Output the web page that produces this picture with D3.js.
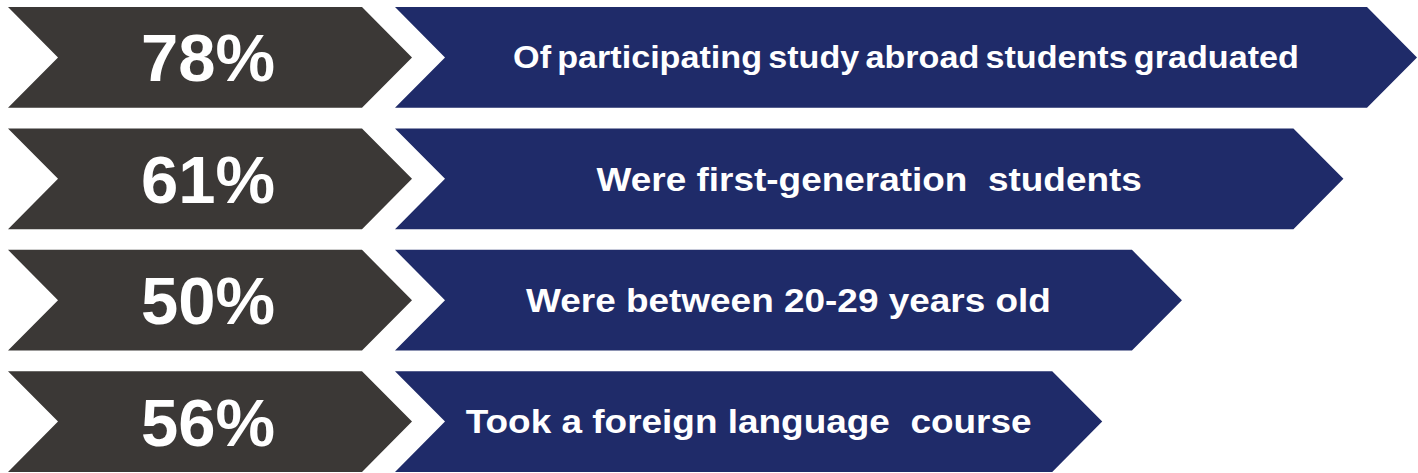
<!DOCTYPE html>
<html>
<head>
<meta charset="utf-8">
<script src="https://cdn.jsdelivr.net/npm/d3@7"></script>
<style>
  body { margin: 0; background: #fff; }
  svg { display: block; }
  text { font-family: "Liberation Sans", Arial, sans-serif; font-weight: bold; fill: #fff; }
</style>
</head>
<body>
<div id="chart"></div>
<script>
// data
var percents = [78, 61, 50, 56];
var captions = [
  "Of participating study abroad students graduated",
  "Were first-generation  students",
  "Were between 20-29 years old",
  "Took a foreign language  course"
];

// arrow length in the original is not tied to the value, so keep it apart (share of full reach)
var arrowReach = [1, 0.928, 0.77, 0.692];

var svgWidth = 1418;
var svgHeight = 473;
var tip = 50;

var svg = d3.select("#chart")
  .append("svg")
  .attr("width", svgWidth)
  .attr("height", svgHeight);

var rows = percents.map((p, i) => ({ pct: p, text: captions[i], reach: arrowReach[i], i: i }));

var yBand = d3.scaleBand()
  .domain(rows.map(d => d.i))
  .range([7, 472])
  .paddingInner(0.17);

// x for the gray chevron and blue arrow
var xGray = d3.scaleLinear().domain([0, 1]).range([8, 412]);
var xBlue = d3.scaleLinear().domain([0, 1]).range([395, 1417]);

var line = d3.line();

function chevron(x0, x1, y0, h) {
  var mid = y0 + h / 2;
  return line([
    [x0, y0], [x1 - tip, y0], [x1, mid], [x1 - tip, y0 + h],
    [x0, y0 + h], [x0 + tip, mid]
  ]) + "Z";
}

var g = svg.selectAll("g.row")
  .data(rows)
  .enter()
  .append("g")
  .attr("class", "row");

g.append("path")
  .attr("d", d => chevron(xGray(0), xGray(1), yBand(d.i), yBand.bandwidth()))
  .attr("fill", "#3b3836");

g.append("path")
  .attr("d", d => chevron(xBlue(0), xBlue(d.reach), yBand(d.i), yBand.bandwidth()))
  .attr("fill", "#1f2b69");

g.append("text")
  .attr("x", 208)
  .attr("y", d => yBand(d.i) + yBand.bandwidth() / 2 + 67 * 0.358)
  .attr("text-anchor", "middle")
  .style("font-size", "67px")
  .text(d => d.pct + "%");

// first caption is set smaller and tighter in the original
var capSize = d => d.i === 0 ? 30.5 : 33;

g.append("text")
  .attr("text-anchor", "middle")
  .attr("transform", d => {
    var cx = (xBlue(0) + tip + xBlue(d.reach) - tip) / 2;
    var cy = yBand(d.i) + yBand.bandwidth() / 2 + capSize(d) * 0.358;
    return `translate(${cx},${cy}) scale(1.12,1)`;
  })
  .style("font-size", d => capSize(d) + "px")
  .style("word-spacing", d => d.i === 0 ? "-3px" : "0px")
  .style("white-space", "pre")
  .text(d => d.text);
</script>
</body>
</html>
